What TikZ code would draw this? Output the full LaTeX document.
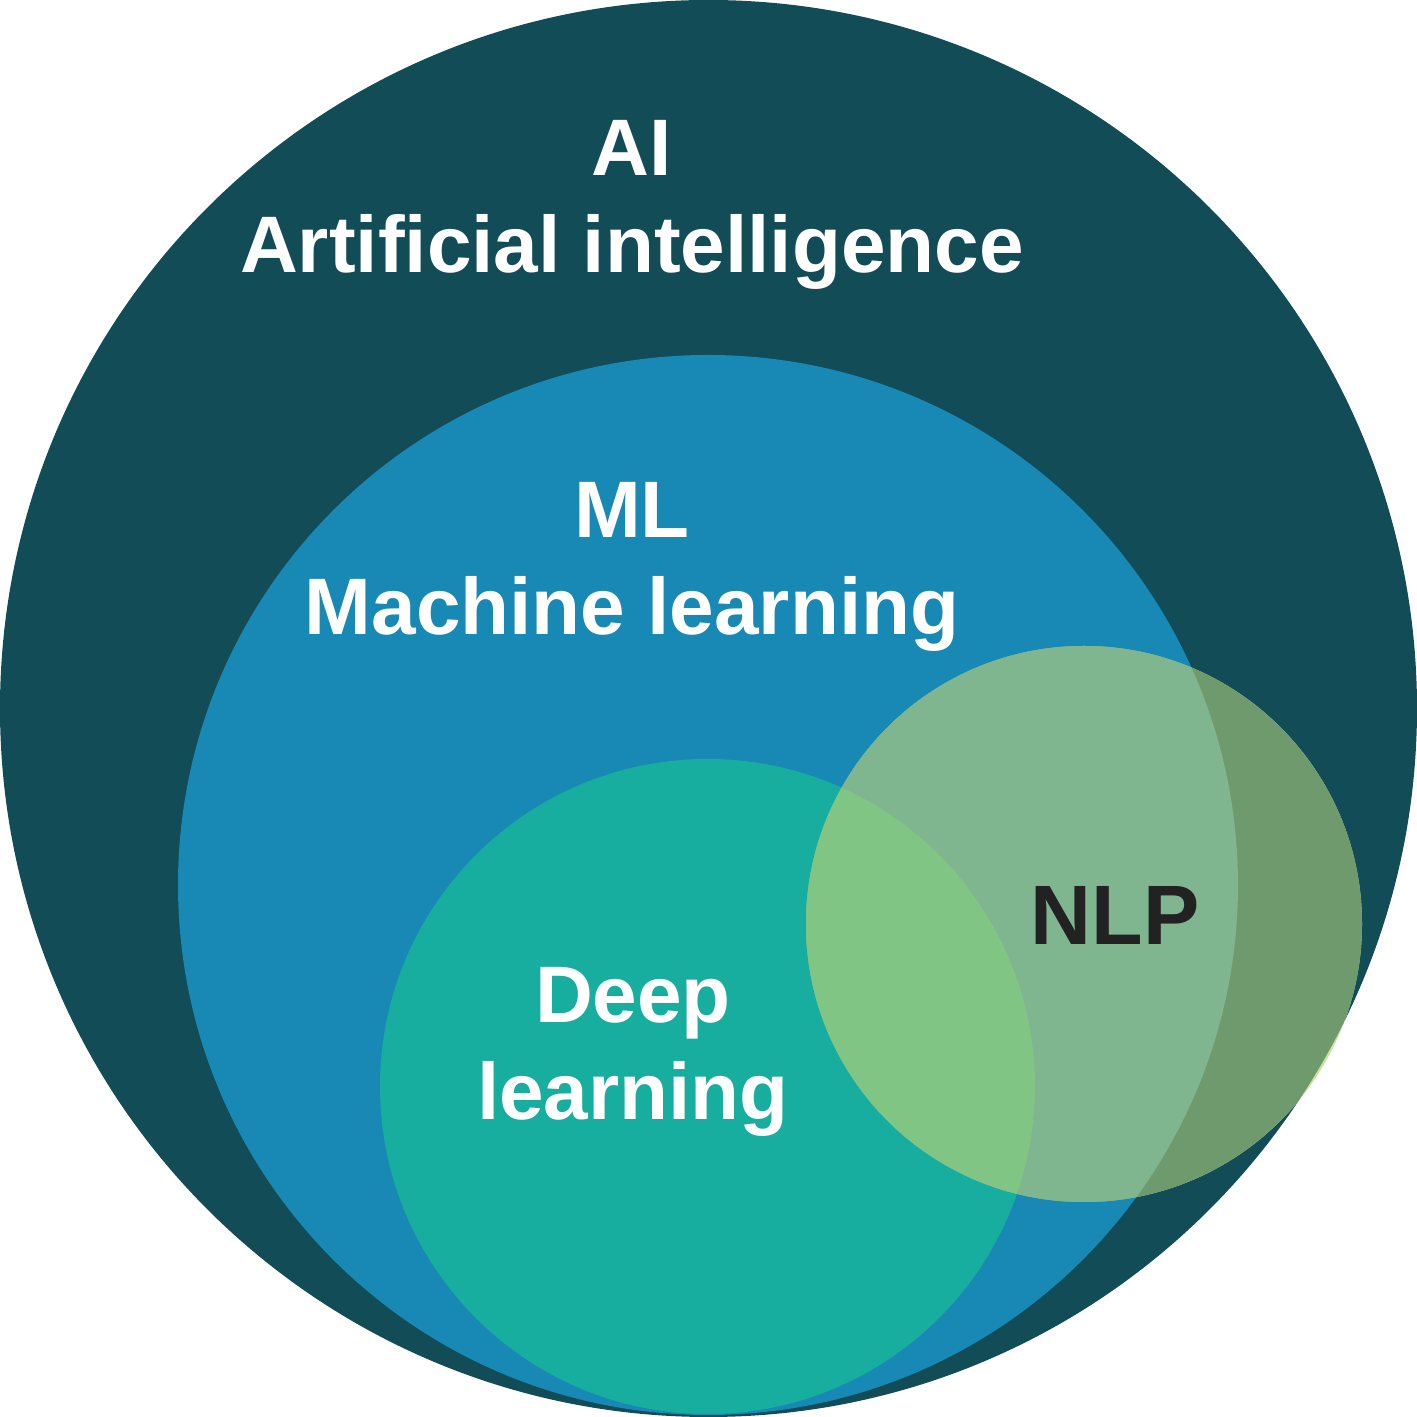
\documentclass[tikz,border=0pt]{standalone}
\usepackage{fontspec}
\setmainfont{Liberation Sans}
\definecolor{aicol}{RGB}{17,76,87}
\definecolor{mlcol}{RGB}{23,137,180}
\definecolor{dlcol}{RGB}{23,174,159}
\definecolor{nlpout}{RGB}{200,228,158}
\definecolor{nlpai}{RGB}{110,154,110}
\definecolor{nlpml}{RGB}{127,181,143}
\definecolor{nlpdl}{RGB}{128,197,132}
\definecolor{nlptext}{RGB}{34,34,34}
\tikzset{
  setlabel/.style={text=white, font=\fontsize{22.8}{27.6}\selectfont\bfseries,
    align=center, inner sep=0pt, anchor=base}
}

\begin{document}
\begin{tikzpicture}
		\useasboundingbox (0, 0) rectangle (14.17, 14.17);
		%%%%% START %%%%%
		
		\fill[aicol] (7.085, 7.085) circle (7.085);
		\fill[mlcol] (7.08, 5.32) circle (5.30);
		\fill[dlcol] (7.075, 3.305) circle (3.275);
		
		% NLP, coloured by what lies under it
		\fill[nlpout] (10.84, 4.93) circle (2.78);
		\begin{scope}
			\clip (7.085, 7.085) circle (7.085);
			\fill[nlpai] (10.84, 4.93) circle (2.78);
			\clip (7.08, 5.32) circle (5.30);
			\fill[nlpml] (10.84, 4.93) circle (2.78);
			\clip (7.075, 3.305) circle (3.275);
			\fill[nlpdl] (10.84, 4.93) circle (2.78);
		\end{scope}
		
		% base = baseline of the last line
		\node[setlabel] (ai) at (6.32, 11.44) {AI\\Artificial intelligence};
		\node[setlabel] (ml) at (6.32, 7.82) {ML\\Machine learning};
		\node[setlabel] (dl) at (6.33, 2.97) {Deep\\learning};
		\node[setlabel, text=nlptext, font=\fontsize{24}{28}\selectfont\bfseries] (nlp) at (11.15, 4.72) {NLP};
		
		%%%%% END %%%%%
\end{tikzpicture}
\end{document}
